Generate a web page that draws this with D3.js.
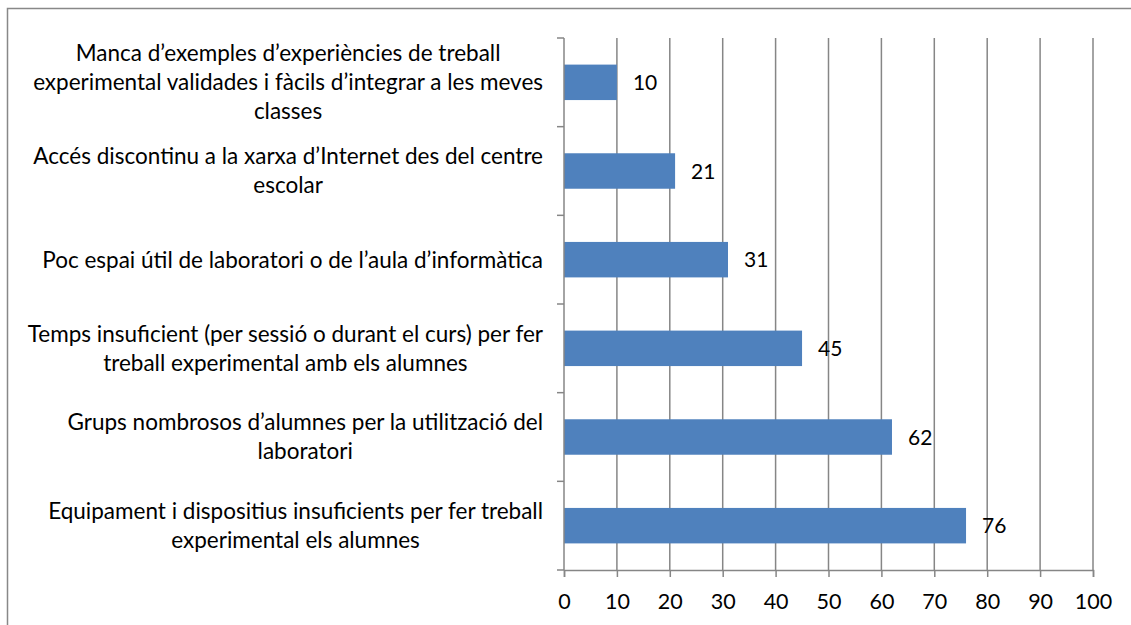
<!DOCTYPE html>
<html>
<head>
<meta charset="utf-8">
<script src="https://cdnjs.cloudflare.com/ajax/libs/d3/7.8.5/d3.min.js"></script>
<style>
  body { margin: 0; background: #fff; }
  text { font-family: Lato, "Open Sans", sans-serif; fill: #000; }
</style>
</head>
<body>
<svg width="1131" height="625"></svg>
<script>
var svg = d3.select('svg');

// categories, top to bottom
var categories = [
  ["Manca d\u2019exemples d\u2019experi\u00e8ncies de treball", "experimental validades i f\u00e0cils d\u2019integrar a les meves", "classes"],
  ["Acc\u00e9s discontinu a la xarxa d\u2019Internet des del centre", "escolar"],
  ["Poc espai \u00fatil de laboratori o de l\u2019aula d\u2019inform\u00e0tica"],
  ["Temps insuficient (per sessi\u00f3 o durant el curs) per fer", "treball experimental amb els alumnes"],
  ["Grups nombrosos d\u2019alumnes per la utilitzaci\u00f3 del", "laboratori"],
  ["Equipament i dispositius insuficients per fer treball", "experimental els alumnes"]
];
var values = [10, 21, 31, 45, 62, 76];
var xTicks = [0, 10, 20, 30, 40, 50, 60, 70, 80, 90, 100];

var plotLeft = 564, plotRight = 1093, plotTop = 38, plotBottom = 570;

// outer frame
svg.append('rect')
  .attr('x', 7.5).attr('y', 8.5)
  .attr('width', 1140).attr('height', 640)
  .attr('fill', 'none').attr('stroke', '#888').attr('stroke-width', 1.5);

var x = d3.scaleLinear().domain([0, 100]).range([plotLeft, plotRight]);
var y = d3.scaleBand().domain(d3.range(categories.length)).range([plotTop, plotBottom]).paddingInner(0.6).paddingOuter(0.3);

// gridlines
svg.append('g').selectAll('line')
  .data(xTicks.slice(1))
  .enter().append('line')
  .attr('x1', d => x(d)).attr('x2', d => x(d))
  .attr('y1', plotTop).attr('y2', plotBottom)
  .attr('stroke', '#868686').attr('stroke-width', 1.5);

// bars
svg.append('g').selectAll('rect')
  .data(values)
  .enter().append('rect')
  .attr('x', x(0))
  .attr('y', (d, i) => y(i))
  .attr('width', d => x(d) - x(0))
  .attr('height', y.bandwidth())
  .attr('fill', '#4F81BD');

// value labels
svg.append('g').selectAll('text')
  .data(values)
  .enter().append('text')
  .attr('x', d => x(d) + 16)
  .attr('y', (d, i) => y(i) + y.bandwidth() / 2)
  .attr('dy', '0.36em')
  .attr('font-size', 21)
  .text(d => d);

// x axis
var xAxis = svg.append('g')
  .attr('transform', 'translate(0,' + plotBottom + ')')
  .call(d3.axisBottom(x).tickValues(xTicks).tickSize(7).tickPadding(17));
xAxis.select('.domain').attr('stroke', '#868686').attr('stroke-width', 1.5);
xAxis.selectAll('.tick line').attr('stroke', '#868686').attr('stroke-width', 1.5);
xAxis.selectAll('.tick text').attr('font-size', 21.5).attr('font-family', 'Lato, sans-serif').attr('fill', '#000');

// y axis line with ticks between categories
var yAxisG = svg.append('g');
var step = (plotBottom - plotTop) / categories.length;
var yEdges = d3.range(categories.length + 1).map(i => plotTop + i * step);
yAxisG.append('line')
  .attr('x1', plotLeft).attr('x2', plotLeft).attr('y1', plotTop).attr('y2', plotBottom)
  .attr('stroke', '#868686').attr('stroke-width', 1.5);
yAxisG.selectAll('.yt')
  .data(yEdges)
  .enter().append('line')
  .attr('x1', plotLeft - 7).attr('x2', plotLeft)
  .attr('y1', d => d).attr('y2', d => d)
  .attr('stroke', '#868686').attr('stroke-width', 1.5);

// category labels, block right aligned, lines centered
var lineH = 29;
categories.forEach(function(lines, i) {
  var g = svg.append('g');
  var cy = plotTop + (i + 0.5) * step;
  var texts = g.selectAll('text')
    .data(lines)
    .enter().append('text')
    .attr('font-size', 22.5)
    .attr('text-anchor', 'middle')
    .attr('dy', '0.35em')
    .text(d => d);
  var maxW = 0;
  texts.each(function() { maxW = Math.max(maxW, this.getComputedTextLength()); });
  var cx = 543 - maxW / 2;
  texts
    .attr('x', cx)
    .attr('y', (d, j) => cy + (j - (lines.length - 1) / 2) * lineH);
});
</script>
</body>
</html>
